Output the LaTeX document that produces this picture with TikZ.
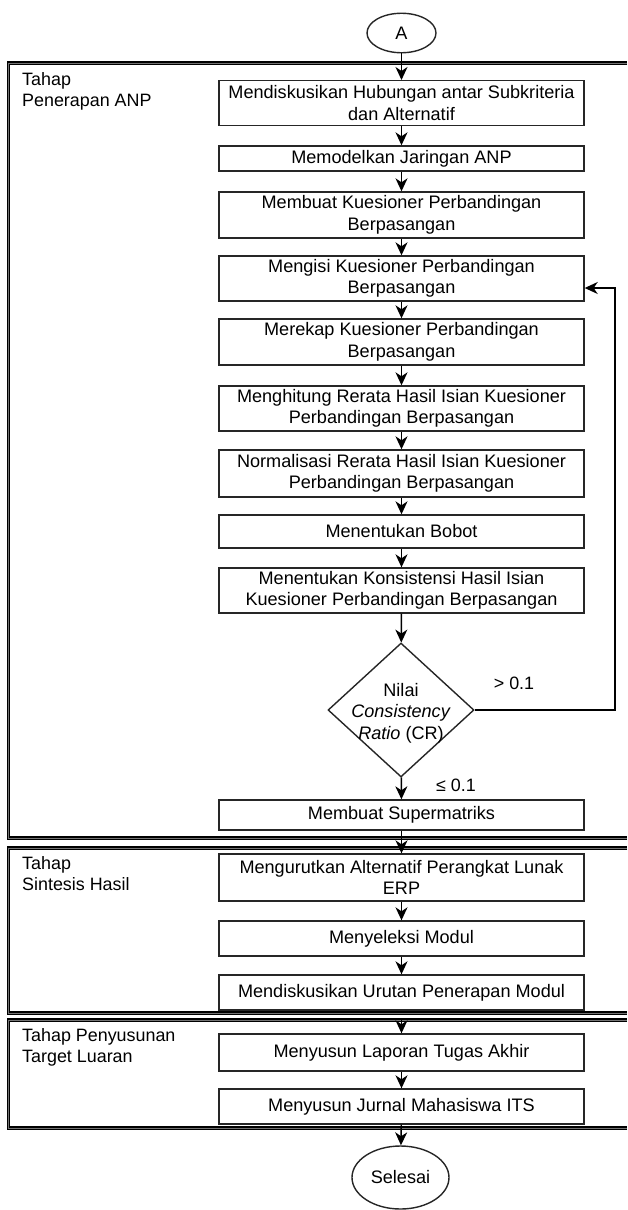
\documentclass[tikz,border=0pt]{standalone}
\usepackage{fontspec}
\setmainfont{Liberation Sans}
\usetikzlibrary{shapes.geometric,arrows.meta,calc}

\begin{document}
\begin{tikzpicture}[x=1pt,y=-1pt,
  every node/.style={text=black},
  txt/.style={font=\fontsize{18.1}{21.5}\selectfont},
  stepbox/.style={txt, draw=black!85, line width=1.4pt, fill=white,
    minimum width=365, inner sep=0pt, align=center},
  terminal/.style={txt, ellipse, draw=black!85, line width=1.4pt, fill=white, inner sep=0pt},
  decision/.style={diamond, draw=black!85, line width=1.4pt, fill=white, inner sep=0pt},
  lanebox/.style={draw=black, double=black!55, double distance=0.9pt, line width=1.3pt},
  lanelabel/.style={font=\fontsize{17.9}{21}\selectfont, anchor=north west, inner sep=0pt, align=left},
  arr/.style={draw=black, line width=1.4pt, -{Stealth[length=13pt,width=12pt,inset=4pt]}},
  lbl/.style={font=\fontsize{17.9}{21}\selectfont, inner sep=0pt}
]
\useasboundingbox (0,0) rectangle (627,1210);

% swimlane frames (open to the right)
\draw[lanebox] (627,63) -- (8.5,63) -- (8.5,838) -- (627,838);
\draw[lanebox] (627,848) -- (8.5,848) -- (8.5,1013) -- (627,1013);
\draw[lanebox] (627,1020) -- (8.5,1020) -- (8.5,1128) -- (627,1128);

\node[lanelabel] (l1) at (22,72) {Tahap\\Penerapan ANP};
\node[lanelabel] (l2) at (22,856) {Tahap\\Sintesis Hasil};
\node[lanelabel] (l3) at (22,1028) {Tahap Penyusunan\\Target Luaran};

% start / end
\node[terminal, minimum width=69, minimum height=39.5] (start) at (401.5,33) {A};
\node[terminal, minimum width=97, minimum height=63] (end) at (400.5,1177.5) {Selesai};

% phase 1
\node[stepbox, minimum height=45] (b1) at (401.5,103.2) {Mendiskusikan Hubungan antar Subkriteria\\dan Alternatif};
\node[stepbox, minimum height=25] (b2) at (401.5,158.5) {Memodelkan Jaringan ANP};
\node[stepbox, minimum height=46] (b3) at (401.5,215) {Membuat Kuesioner Perbandingan\\Berpasangan};
\node[stepbox, minimum height=45] (b4) at (401.5,278.5) {Mengisi Kuesioner Perbandingan\\Berpasangan};
\node[stepbox, minimum height=46] (b5) at (401.5,342) {Merekap Kuesioner Perbandingan\\Berpasangan};
\node[stepbox, minimum height=45] (b6) at (401.5,408.5) {Menghitung Rerata Hasil Isian Kuesioner\\Perbandingan Berpasangan};
\node[stepbox, minimum height=47] (b7) at (401.5,473.5) {Normalisasi Rerata Hasil Isian Kuesioner\\Perbandingan Berpasangan};
\node[stepbox, minimum height=33] (b8) at (401.5,531.5) {Menentukan Bobot};
\node[stepbox, minimum height=45] (b9) at (401.5,590.5) {Menentukan Konsistensi Hasil Isian\\Kuesioner Perbandingan Berpasangan};
\node[decision, minimum width=146, minimum height=134] (d) at (401,710) {};
\node[txt, align=center, inner sep=0pt] (dtext) at ([yshift=-3pt]d.center)
  {Nilai\\\textit{Consistency}\\\textit{Ratio} (CR)};
\node[stepbox, minimum height=30] (b10) at (401.5,815) {Membuat Supermatriks};

% phase 2
\node[stepbox, minimum height=47] (b11) at (401.5,877.5) {Mengurutkan Alternatif Perangkat Lunak\\ERP};
\node[stepbox, minimum height=35] (b12) at (401.5,938.5) {Menyeleksi Modul};
\node[stepbox, minimum height=35] (b13) at (401.5,992.5) {Mendiskusikan Urutan Penerapan Modul};

% phase 3
\node[stepbox, minimum height=37] (b14) at (401.5,1052.5) {Menyusun Laporan Tugas Akhir};
\node[stepbox, minimum height=35] (b15) at (401.5,1106.5) {Menyusun Jurnal Mahasiswa ITS};

% flow
\draw[arr] (start) -- (b1);
\draw[arr] (b1) -- (b2);
\draw[arr] (b2) -- (b3);
\draw[arr] (b3) -- (b4);
\draw[arr] (b4) -- (b5);
\draw[arr] (b5) -- (b6);
\draw[arr] (b6) -- (b7);
\draw[arr] (b7) -- (b8);
\draw[arr] (b8) -- (b9);
\draw[arr] (b9) -- (d);
\draw[arr] (d) -- (b10);
\draw[arr] (b10) -- (b11);
\draw[arr] (b11) -- (b12);
\draw[arr] (b12) -- (b13);
\draw[arr] ([yshift=-8pt]b13.south) -- (b14);
\draw[arr] (b14) -- (b15);
\draw[arr] (b15) -- (end);

% feedback loop
\coordinate (loop) at (615,288);
\draw[arr] (d.east) -| (loop) -- (b4.east |- loop);

\node[lbl] (gt) at (514,683) {> 0.1};
\node[lbl] (le) at (456,785) {≤ 0.1};
\end{tikzpicture}
\end{document}
